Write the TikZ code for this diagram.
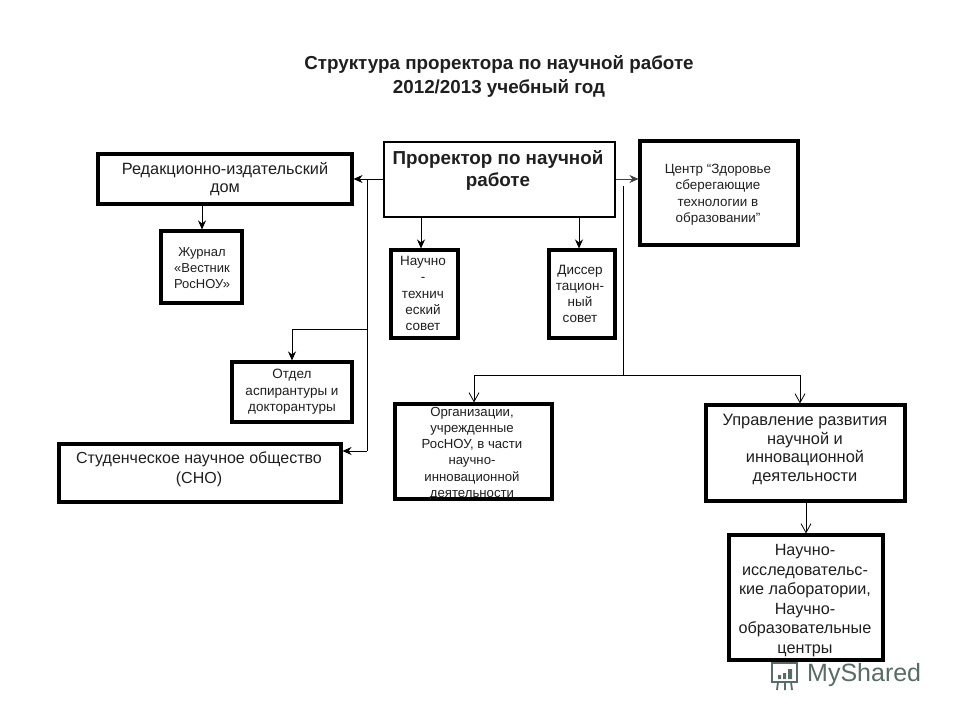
\documentclass[tikz,border=0pt]{standalone}
\usepackage{fontspec}
\setmainfont{Liberation Sans}
\usetikzlibrary{arrows.meta,calc}
\definecolor{wmark}{RGB}{88,108,102}
\tikzset{
  x=1pt,y=-1pt,
  boxthin/.style={draw=black,line width=2.4pt,fill=white,inner sep=0pt},
  boxthick/.style={draw=black,line width=3.1pt,fill=white,inner sep=0pt},
  txt/.style={align=center,inner sep=0pt,text=black!88},
  link/.style={draw=black,line width=0.8pt,-{Stealth[length=9pt,width=8pt]}},
  plain/.style={draw=black,line width=0.8pt},
  open/.style={draw=black,line width=0.8pt,-{Straight Barb[length=9pt,width=10pt]}},
}
\newcommand{\bx}[6][boxthick]{\node[#1,minimum width=#4-#2-2,minimum height=#5-#3-2] (#6) at ({(#2+#4)/2},{(#3+#5)/2}) {};}
\begin{document}
\begin{tikzpicture}
\useasboundingbox (0,0) rectangle (960,720);
\fill[white] (0,0) rectangle (960,720);
% watermark
\node[text=wmark,inner sep=0pt,anchor=west,font=\fontsize{25}{25}\selectfont] (wm) at (807,675) {MyShared};
\draw[wmark,line width=1.8pt] (769,661) -- (799,661) (772,663) rectangle (797,682) (778,682) -- (777,690) (791,682) -- (792,690) (785,682) -- (785,690);
\fill[wmark] (778,675) rectangle (781,679) (783,673) rectangle (786,679) (788,669) rectangle (792,679);
% title
\node[txt,font=\bfseries\fontsize{18.8}{24}\selectfont] (title) at (499,76) {Структура проректора по научной работе\\2012/2013 учебный год};
% boxes
\bx[boxthin]{383}{141}{616}{218}{pro}
\bx{97}{153}{353}{205}{red}
\bx{160}{230}{243}{304}{zhur}
\bx{390}{249}{459}{339}{nts}
\bx{548}{249}{616}{339}{dis}
\bx{639}{140}{799}{246}{cen}
\bx{231}{361}{353}{423}{otd}
\bx{58}{443}{342}{503}{sno}
\bx{394}{403}{553}{500}{org}
\bx{705}{404}{906}{502}{upr}
\bx{728}{534}{884}{661}{lab}
% labels
\node[txt,font=\bfseries\fontsize{18.8}{22}\selectfont] (proT) at (498,170.5) {Проректор по научной\\работе};
\node[txt,font=\fontsize{16.3}{18}\selectfont] (redT) at (225,179) {Редакционно-издательский\\дом};
\node[txt,font=\fontsize{13}{16}\selectfont] (zhurT) at (202,268) {Журнал\\«Вестник\\РосНОУ»};
\node[txt,font=\fontsize{13.5}{16.2}\selectfont] (ntsT) at (423,293.5) {Научно\\-\\технич\\еский\\совет};
\node[txt,font=\fontsize{13.5}{16}\selectfont] (disT) at (580,294) {Диссер\\тацион-\\ный\\совет};
\node[txt,font=\fontsize{13.4}{16.5}\selectfont] (cenT) at (718,194.5) {Центр “Здоровье\\сберегающие\\технологии в\\образовании”};
\node[txt,font=\fontsize{13.5}{16.5}\selectfont] (otdT) at (292,392) {Отдел\\аспирантуры и\\докторантуры};
\node[txt,font=\fontsize{16}{19.5}\selectfont] (snoT) at (199,469.5) {Студенческое научное общество\\(СНО)};
\node[txt,font=\fontsize{13.2}{16.2}\selectfont] (orgT) at (472,453.5) {Организации,\\учрежденные\\РосНОУ, в части\\научно-\\инновационной\\деятельности};
\node[txt,font=\fontsize{16.4}{18.8}\selectfont] (uprT) at (805,449.5) {Управление развития\\научной и\\инновационной\\деятельности};
\node[txt,font=\fontsize{16.2}{19.5}\selectfont] (labT) at (805,600.5) {Научно-\\исследовательс-\\кие лаборатории,\\Научно-\\образовательные\\центры};
% junctions
\coordinate (jl) at (367,179);
\coordinate (jm) at (367,329);
\coordinate (jo) at (292,329);
\coordinate (js) at (367,451);
\coordinate (rt) at (623,186);
\coordinate (rb) at (623,375);
\coordinate (ro) at (474,375);
\coordinate (ru) at (800,375);
\coordinate (xz) at (202,0);
\coordinate (xn) at (421,0);
\coordinate (xd) at (579,0);
\coordinate (xl) at (806,0);
\coordinate (yc) at (0,179);
% connectors
\draw[link] (pro.west |- jl) -- (red.east |- jl);
\draw[plain] (jl) -- (js);
\draw[link] (js) -- (sno.east |- js);
\draw[plain] (jm) -- (jo);
\draw[link] (jo) -- (otd.north -| jo);
\draw[link] (red.south -| xz) -- (zhur.north -| xz);
\draw[link] (pro.south -| xn) -- (nts.north -| xn);
\draw[link] (pro.south -| xd) -- (dis.north -| xd);
\draw[link,draw=black!75] (pro.east |- yc) -- (cen.west |- yc);
\draw[plain] (rt) -- (rb);
\draw[plain] (ro) -- (ru);
\draw[open] (ro) -- (org.north -| ro);
\draw[open] (ru) -- (upr.north -| ru);
\draw[open] (upr.south -| xl) -- (lab.north -| xl);
\end{tikzpicture}
\end{document}
